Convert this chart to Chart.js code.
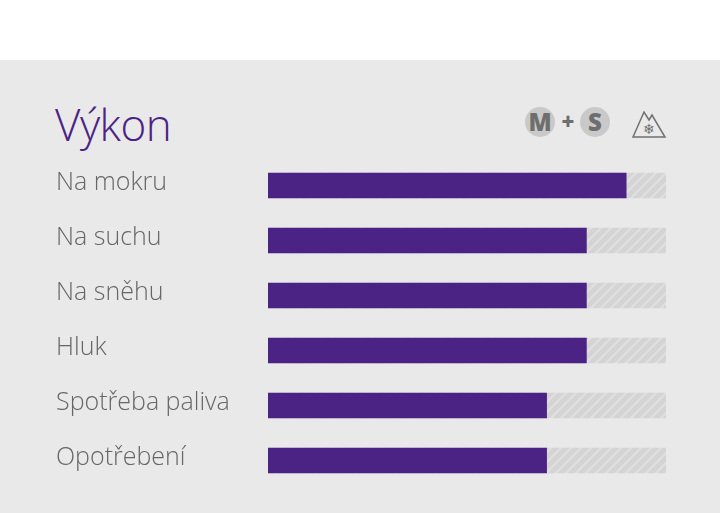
<!DOCTYPE html>
<html><head><meta charset="utf-8">
<script src="https://cdn.jsdelivr.net/npm/chart.js@4"></script>
<style>
  body { margin:0; width:720px; height:513px; background:#fff; position:relative; overflow:hidden; font-family:"Open Sans", sans-serif; }
  .panel { position:absolute; left:0; top:60px; width:720px; height:453px; background:#e9e9e9; }
  h1 { position:absolute; left:55px; top:94px; margin:0; font-weight:300; font-size:44px; color:#4a2384; letter-spacing:-0.5px; }
  .icons { position:absolute; left:524px; top:104px; }
  #wrap { position:absolute; left:56px; top:143px; width:610px; height:360px; }
</style></head>
<body>
<div class="panel"></div>
<h1>Výkon</h1>
<svg class="icons" width="146" height="38" viewBox="0 0 146 38">
  <circle cx="16" cy="18" r="15" fill="#c9c9c9"/>
  <text x="16" y="26.5" text-anchor="middle" font-family="Open Sans" font-weight="800" font-size="24" fill="#6e6e6e">M</text>
  <text x="44" y="26" text-anchor="middle" font-family="Open Sans" font-weight="800" font-size="22" fill="#6e6e6e">+</text>
  <circle cx="71" cy="18" r="15" fill="#c9c9c9"/>
  <text x="71" y="26.5" text-anchor="middle" font-family="Open Sans" font-weight="800" font-size="24" fill="#6e6e6e">S</text>
  <path d="M109 33 L120 8 L125 16 L128 11 L141 33 Z" fill="none" stroke="#707070" stroke-width="1.5"/>
  <text x="125" y="30" text-anchor="middle" font-size="14" fill="#707070">❄</text>
</svg>
<div id="wrap"><canvas id="c"></canvas></div>
<script>
const categories = ["Na mokru", "Na suchu", "Na sněhu", "Hluk", "Spotřeba paliva", "Opotřebení"];
const scores = [90, 80, 80, 80, 70, 70];
const maxScore = [100, 100, 100, 100, 100, 100];

function stripes() {
  const p = document.createElement("canvas");
  p.width = 10; p.height = 10;
  const g = p.getContext("2d");
  g.fillStyle = "#d4d4d4"; g.fillRect(0, 0, 10, 10);
  g.strokeStyle = "#e0e0e0"; g.lineWidth = 2;
  g.beginPath();
  g.moveTo(-2, 12); g.lineTo(12, -2);
  g.moveTo(-2, 2); g.lineTo(2, -2);
  g.moveTo(8, 12); g.lineTo(12, 8);
  g.stroke();
  return g.createPattern(p, "repeat");
}

new Chart(document.getElementById("c"), {
  type: "bar",
  data: {
    labels: categories,
    datasets: [
      { data: scores, backgroundColor: "#4a2384", order: 1, barThickness: 25 },
      { data: maxScore, backgroundColor: stripes(), order: 2, barThickness: 25 },
    ],
  },
  options: {
    indexAxis: "y",
    responsive: true,
    maintainAspectRatio: false,
    animation: false,
    layout: { padding: 0 },
    datasets: { bar: { grouped: false } },
    scales: {
      x: { min: 0, max: 100, display: false },
      y: {
        grid: { display: false }, border: { display: false },
        afterFit: (s) => { s.width = 212; },
        ticks: { crossAlign: "far", color: "#666", padding: 0, labelOffset: -3, font: { family: "Open Sans", size: 25, weight: 300 } },
      },
    },
    plugins: { legend: { display: false }, tooltip: { enabled: false } },
  },
});
</script>
</body></html>
